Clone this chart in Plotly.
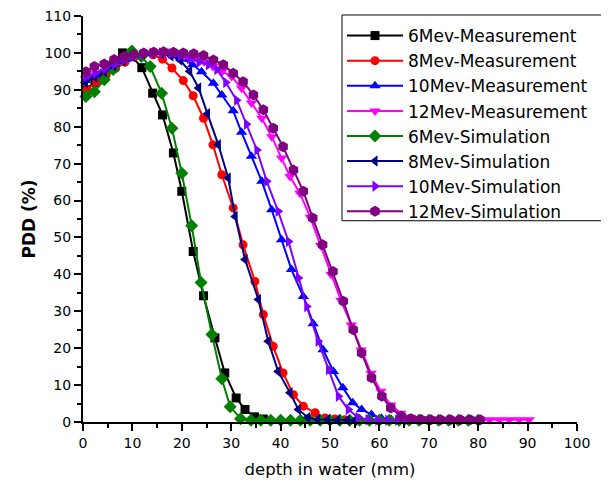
import plotly.graph_objects as go

# ---------------- data (depth in mm, PDD in %) ----------------
depth_6mev_meas = [0.5, 2.4, 4.3, 6.2, 8.0, 9.9, 11.9, 14.1, 16.1, 18.3, 20.0, 22.3, 24.4, 26.7, 28.7, 31.0, 32.8, 34.7, 36.5]
pdd_6mev_meas = [90.0, 92.0, 94.5, 97.0, 100.0, 99.0, 96.0, 89.1, 83.2, 72.9, 62.5, 46.2, 34.2, 22.8, 13.3, 6.5, 3.4, 1.4, 0.8]

depth_8mev_meas = [0.8, 2.8, 4.7, 6.6, 8.5, 10.4, 12.3, 14.2, 16.1, 18.0, 20.3, 22.3, 24.4, 26.3, 28.1, 30.4, 32.4, 34.8,
                   36.5, 38.5, 40.5, 42.6, 44.6, 47.0, 49.0, 51.0, 53.0]
pdd_8mev_meas = [90.0, 92.2, 94.0, 95.8, 97.5, 99.0, 99.8, 99.5, 98.3, 95.9, 92.5, 88.4, 82.3, 75.1, 67.0, 58.0, 48.0, 38.1,
                 29.1, 20.5, 13.3, 7.4, 4.3, 2.5, 1.1, 0.8, 0.6]

depth_10mev_meas = [0.5, 2.5, 4.5, 6.5, 8.5, 10.5, 12.5, 14.5, 16.5, 18.5, 20.3, 22.2, 24.0, 26.4, 28.1, 30.4, 32.1, 34.1,
                    36.2, 38.2, 40.2, 42.2, 44.6, 46.6, 48.6, 50.7, 52.6, 54.6, 56.4, 58.4, 60.4, 62.4]
pdd_10mev_meas = [92.5, 94.0, 95.5, 97.0, 98.2, 99.2, 99.8, 100.2, 100.0, 99.3, 98.3, 96.8, 94.9, 91.8, 88.6, 84.3, 78.5, 72.0,
                  65.2, 57.5, 49.4, 41.3, 34.0, 26.6, 19.6, 13.7, 9.3, 5.2, 3.4, 2.0, 1.0, 0.7]

depth_12mev_meas = [0.5, 2.5, 4.5, 6.5, 8.5, 10.5, 12.5, 14.5, 16.5, 18.5, 20.5, 22.5, 24.5, 26.3, 28.2, 30.1, 32.1, 34.1,
                    36.2, 38.2, 40.2, 41.9, 43.9, 46.0, 48.1, 50.2, 52.2, 54.3, 56.3, 58.3, 60.3, 62.3, 64.3, 66.3,
                    68.3, 70.3, 72.3, 74.3, 76.3, 78.3, 80.3, 82.3, 84.3, 86.3, 88.3, 90.3]
pdd_12mev_meas = [93.0, 94.5, 96.0, 97.3, 98.3, 99.2, 99.7, 100.0, 100.0, 99.7, 99.2, 98.5, 97.6, 96.3, 95.0, 93.6, 90.4, 86.4,
                  82.3, 77.3, 71.5, 66.5, 62.0, 55.5, 47.8, 40.0, 33.0, 26.3, 19.5, 13.2, 8.3, 4.6, 2.4, 1.3,
                  0.9, 0.8, 0.7, 0.7, 0.7, 0.6, 0.6, 0.6, 0.6, 0.6, 0.6, 0.6]

depth_6mev_sim = [0.6, 2.3, 4.3, 6.1, 8.0, 9.9, 11.8, 13.6, 15.9, 18.0, 20.0, 22.0, 23.9, 26.1, 28.1, 29.8, 31.9,
                  34.0, 36.0, 38.0, 40.0, 42.0, 44.0, 46.0, 48.0, 50.0, 52.0, 54.0, 56.0, 58.0, 60.0, 62.0, 64.0,
                  66.0, 68.0, 70.0, 72.0, 74.0, 76.0, 78.0, 80.0]
pdd_6mev_sim = [88.2, 89.5, 92.7, 95.5, 98.3, 100.5, 99.0, 96.3, 89.1, 79.6, 67.4, 53.2, 37.8, 23.7, 11.7, 4.1, 0.9,
                0.5, 0.5, 0.5, 0.5, 0.5, 0.5, 0.5, 0.5, 0.5, 0.5, 0.5, 0.5, 0.5, 0.5, 0.5, 0.5,
                0.5, 0.5, 0.5, 0.5, 0.5, 0.5, 0.5, 0.5]

depth_8mev_sim = [0.5, 2.4, 4.3, 6.2, 8.1, 10.0, 12.0, 14.0, 15.9, 17.8, 19.6, 21.6, 23.4, 25.2, 27.4, 29.4, 30.8, 32.8,
                  35.5, 37.5, 39.5, 41.9, 43.6, 45.5, 47.5, 49.5, 51.5, 53.5, 55.0]
pdd_8mev_sim = [92.0, 93.5, 95.0, 96.5, 97.8, 99.0, 99.8, 100.0, 99.8, 99.2, 98.1, 95.0, 90.5, 83.5, 75.1, 66.1, 55.7, 44.0,
                33.2, 21.9, 13.7, 7.9, 3.4, 1.2, 0.7, 0.6, 0.5, 0.5, 0.5]

depth_10mev_sim = [0.6, 2.5, 4.5, 6.4, 8.3, 10.2, 12.1, 14.0, 15.9, 17.8, 19.7, 21.6, 23.5, 25.4, 27.1, 28.9, 31.1, 33.1,
                   35.2, 37.2, 39.5, 41.6, 43.6, 45.3, 47.6, 49.7, 51.7, 53.7, 55.7, 57.7, 59.7, 61.7, 63.7, 65.5]
pdd_10mev_sim = [93.5, 94.5, 95.8, 97.0, 98.2, 99.0, 99.6, 100.0, 100.0, 99.8, 99.3, 98.5, 97.5, 96.8, 95.5, 92.0, 87.2, 80.7,
                 73.7, 65.2, 57.1, 48.9, 39.0, 31.3, 21.9, 14.2, 7.0, 3.4, 1.2, 0.6, 0.5, 0.5, 0.5, 0.5]

depth_12mev_sim = [0.6, 2.3, 4.3, 6.3, 8.3, 10.3, 12.3, 14.3, 16.3, 18.3, 20.3, 22.4, 24.4, 26.4, 28.4, 30.4, 32.4, 34.5,
                   36.5, 38.5, 40.5, 42.6, 44.6, 46.5, 48.5, 50.6, 52.7, 54.7, 56.4, 58.4, 60.5, 62.3, 64.4, 66.4,
                   68.4, 70.4, 72.4, 74.4, 76.4, 78.4, 80.4]
pdd_12mev_sim = [94.9, 96.3, 97.0, 98.2, 99.0, 99.6, 100.0, 100.2, 100.3, 100.2, 100.0, 99.8, 99.3, 98.1, 96.8, 94.5, 92.2, 88.6,
                 84.6, 79.6, 74.6, 68.3, 62.5, 55.3, 48.0, 40.8, 32.7, 25.0, 18.7, 12.0, 7.0, 3.8, 1.6, 0.9,
                 0.7, 0.6, 0.6, 0.6, 0.6, 0.6, 0.6]

series_names = ["6Mev-Measurement", "8Mev-Measurement", "10Mev-Measurement", "12Mev-Measurement",
                "6Mev-Simulation", "8Mev-Simulation", "10Mev-Simulation", "12Mev-Simulation"]
series_x = [depth_6mev_meas, depth_8mev_meas, depth_10mev_meas, depth_12mev_meas,
            depth_6mev_sim, depth_8mev_sim, depth_10mev_sim, depth_12mev_sim]
series_y = [pdd_6mev_meas, pdd_8mev_meas, pdd_10mev_meas, pdd_12mev_meas,
            pdd_6mev_sim, pdd_8mev_sim, pdd_10mev_sim, pdd_12mev_sim]
series_colors = ["#000000", "#FF0000", "#0000FF", "#FF00FF", "#008000", "#000080", "#8000FF", "#800080"]
series_symbols = ["square", "circle", "triangle-up", "triangle-down", "diamond", "triangle-left", "triangle-right", "hexagon"]
series_sizes = [9, 9, 10, 10, 10, 10, 10, 11]

FONT = "DejaVu Sans"

fig = go.Figure()
for name, xs, ys, col, sym, sz in zip(series_names, series_x, series_y, series_colors, series_symbols, series_sizes):
    fig.add_trace(go.Scatter(
        x=xs, y=ys, name=name, mode="lines+markers",
        line=dict(color=col, width=2),
        marker=dict(color=col, symbol=sym, size=sz, line=dict(width=0)),
        cliponaxis=False,
    ))

axis_common = dict(
    showline=True, linecolor="black", linewidth=2, mirror=False,
    ticks="outside", ticklen=7, tickwidth=2, tickcolor="black",
    showgrid=False, zeroline=False, automargin=False,
    ticklabeloverflow="allow",
    tickfont=dict(family=FONT, size=14, color="black"),
    minor=dict(ticks="outside", ticklen=4, tickwidth=2, tickcolor="black", dtick=5),
)

fig.update_xaxes(range=[0, 100], dtick=10, tick0=0,
                 title=dict(text="depth in water (mm)", font=dict(family=FONT, size=16.5, color="black"), standoff=14),
                 **axis_common)
fig.update_yaxes(range=[0, 110], dtick=10, tick0=0,
                 title=dict(text="<b>PDD (%)</b>", font=dict(family=FONT, size=17, color="black"), standoff=5),
                 **axis_common)

# legend frame (paper coordinates of the plotting area)
fig.add_shape(type="rect", xref="paper", yref="paper",
              x0=0.5243, x1=1.0628, y0=0.4957, y1=1.0025,
              line=dict(color="black", width=1), fillcolor="rgba(0,0,0,0)", layer="above")

# the page body adds an 8 px offset, so the figure is 8 px smaller and margins 8 px tighter
fig.update_layout(
    width=601, height=481,
    margin=dict(l=75, r=32, t=8, b=67, autoexpand=False),
    plot_bgcolor="white", paper_bgcolor="white",
    font=dict(family=FONT, color="black"),
    legend=dict(
        x=0.5243, y=0.995, xanchor="left", yanchor="top",
        borderwidth=0, bgcolor="rgba(0,0,0,0)",
        font=dict(family=FONT, size=17, color="black"),
        itemwidth=56, tracegroupgap=0,
    ),
    showlegend=True,
)

fig.write_html("out.html")
